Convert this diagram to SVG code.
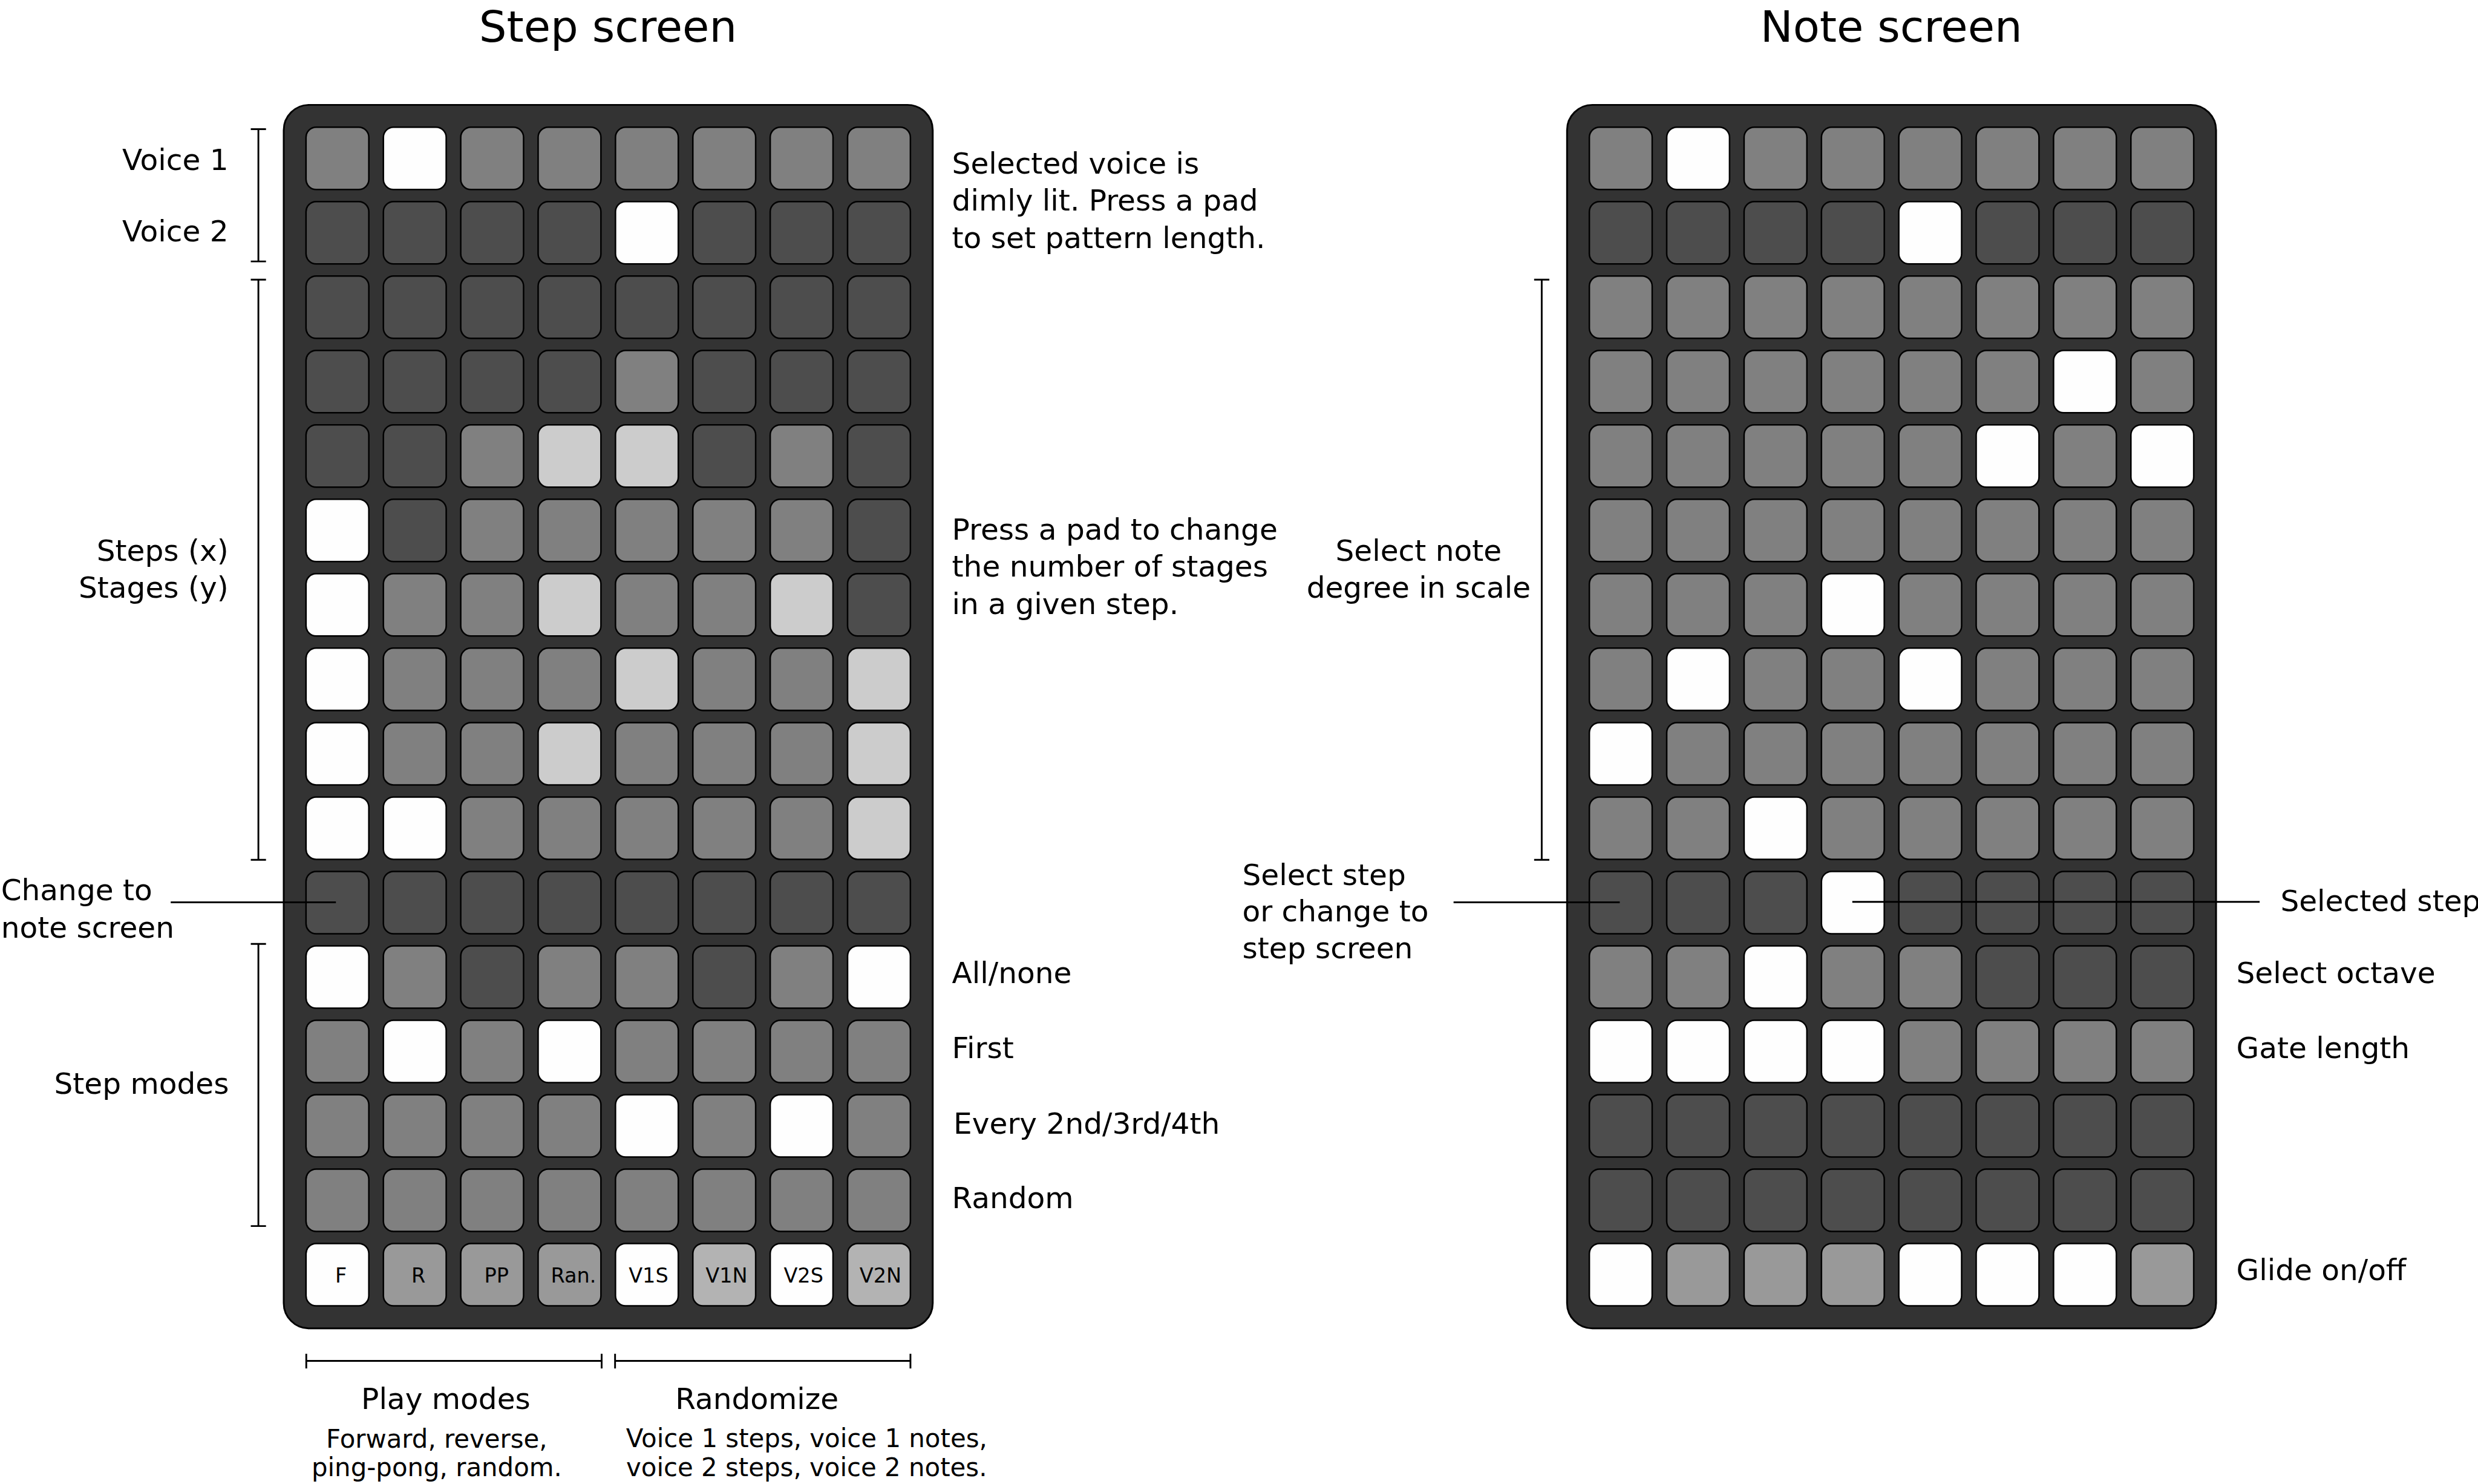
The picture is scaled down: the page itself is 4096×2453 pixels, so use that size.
<svg xmlns="http://www.w3.org/2000/svg" width="4096" height="2453" viewBox="0 0 4096 2453">
<style>
text{font-family:"DejaVu Sans","Liberation Sans",sans-serif;fill:#000}
.t{font-size:86px;text-anchor:middle}
.l{font-size:58px}
.e{text-anchor:end}
.c{text-anchor:middle}
.s{font-size:50px;text-anchor:middle}
.pl{font-size:40px;text-anchor:middle}
.panel{fill:#333;stroke:#000;stroke-width:3.5}
.pads rect{stroke:#000;stroke-width:3}
.W{fill:#fefefe}.M{fill:#808080}.D{fill:#4d4d4d}.L{fill:#ccc}.G{fill:#999}.H{fill:#b3b3b3}
.ln{stroke:#000;stroke-width:3.5;fill:none}
</style>
<rect width="4096" height="2453" fill="#fff"/>
<g transform="scale(0.83746)">
<g id="titles">
<text class="t" x="1200" y="82">Step screen</text>
<text class="t" x="3733" y="82">Note screen</text>
</g>
<g id="step-screen">
<rect class="panel" x="560" y="207" width="1281" height="2415" rx="50"/>
<g class="pads">
<g transform="translate(604,251)"><rect class="M" x="0" width="124" height="123" rx="20"/><rect class="W" x="152.7" width="124" height="123" rx="20"/><rect class="M" x="305.4" width="124" height="123" rx="20"/><rect class="M" x="458.1" width="124" height="123" rx="20"/><rect class="M" x="610.8" width="124" height="123" rx="20"/><rect class="M" x="763.5" width="124" height="123" rx="20"/><rect class="M" x="916.2" width="124" height="123" rx="20"/><rect class="M" x="1068.9" width="124" height="123" rx="20"/></g>
<g transform="translate(604,397.9)"><rect class="D" x="0" width="124" height="123" rx="20"/><rect class="D" x="152.7" width="124" height="123" rx="20"/><rect class="D" x="305.4" width="124" height="123" rx="20"/><rect class="D" x="458.1" width="124" height="123" rx="20"/><rect class="W" x="610.8" width="124" height="123" rx="20"/><rect class="D" x="763.5" width="124" height="123" rx="20"/><rect class="D" x="916.2" width="124" height="123" rx="20"/><rect class="D" x="1068.9" width="124" height="123" rx="20"/></g>
<g transform="translate(604,544.8)"><rect class="D" x="0" width="124" height="123" rx="20"/><rect class="D" x="152.7" width="124" height="123" rx="20"/><rect class="D" x="305.4" width="124" height="123" rx="20"/><rect class="D" x="458.1" width="124" height="123" rx="20"/><rect class="D" x="610.8" width="124" height="123" rx="20"/><rect class="D" x="763.5" width="124" height="123" rx="20"/><rect class="D" x="916.2" width="124" height="123" rx="20"/><rect class="D" x="1068.9" width="124" height="123" rx="20"/></g>
<g transform="translate(604,691.7)"><rect class="D" x="0" width="124" height="123" rx="20"/><rect class="D" x="152.7" width="124" height="123" rx="20"/><rect class="D" x="305.4" width="124" height="123" rx="20"/><rect class="D" x="458.1" width="124" height="123" rx="20"/><rect class="M" x="610.8" width="124" height="123" rx="20"/><rect class="D" x="763.5" width="124" height="123" rx="20"/><rect class="D" x="916.2" width="124" height="123" rx="20"/><rect class="D" x="1068.9" width="124" height="123" rx="20"/></g>
<g transform="translate(604,838.6)"><rect class="D" x="0" width="124" height="123" rx="20"/><rect class="D" x="152.7" width="124" height="123" rx="20"/><rect class="M" x="305.4" width="124" height="123" rx="20"/><rect class="L" x="458.1" width="124" height="123" rx="20"/><rect class="L" x="610.8" width="124" height="123" rx="20"/><rect class="D" x="763.5" width="124" height="123" rx="20"/><rect class="M" x="916.2" width="124" height="123" rx="20"/><rect class="D" x="1068.9" width="124" height="123" rx="20"/></g>
<g transform="translate(604,985.5)"><rect class="W" x="0" width="124" height="123" rx="20"/><rect class="D" x="152.7" width="124" height="123" rx="20"/><rect class="M" x="305.4" width="124" height="123" rx="20"/><rect class="M" x="458.1" width="124" height="123" rx="20"/><rect class="M" x="610.8" width="124" height="123" rx="20"/><rect class="M" x="763.5" width="124" height="123" rx="20"/><rect class="M" x="916.2" width="124" height="123" rx="20"/><rect class="D" x="1068.9" width="124" height="123" rx="20"/></g>
<g transform="translate(604,1132.4)"><rect class="W" x="0" width="124" height="123" rx="20"/><rect class="M" x="152.7" width="124" height="123" rx="20"/><rect class="M" x="305.4" width="124" height="123" rx="20"/><rect class="L" x="458.1" width="124" height="123" rx="20"/><rect class="M" x="610.8" width="124" height="123" rx="20"/><rect class="M" x="763.5" width="124" height="123" rx="20"/><rect class="L" x="916.2" width="124" height="123" rx="20"/><rect class="D" x="1068.9" width="124" height="123" rx="20"/></g>
<g transform="translate(604,1279.3)"><rect class="W" x="0" width="124" height="123" rx="20"/><rect class="M" x="152.7" width="124" height="123" rx="20"/><rect class="M" x="305.4" width="124" height="123" rx="20"/><rect class="M" x="458.1" width="124" height="123" rx="20"/><rect class="L" x="610.8" width="124" height="123" rx="20"/><rect class="M" x="763.5" width="124" height="123" rx="20"/><rect class="M" x="916.2" width="124" height="123" rx="20"/><rect class="L" x="1068.9" width="124" height="123" rx="20"/></g>
<g transform="translate(604,1426.2)"><rect class="W" x="0" width="124" height="123" rx="20"/><rect class="M" x="152.7" width="124" height="123" rx="20"/><rect class="M" x="305.4" width="124" height="123" rx="20"/><rect class="L" x="458.1" width="124" height="123" rx="20"/><rect class="M" x="610.8" width="124" height="123" rx="20"/><rect class="M" x="763.5" width="124" height="123" rx="20"/><rect class="M" x="916.2" width="124" height="123" rx="20"/><rect class="L" x="1068.9" width="124" height="123" rx="20"/></g>
<g transform="translate(604,1573.1)"><rect class="W" x="0" width="124" height="123" rx="20"/><rect class="W" x="152.7" width="124" height="123" rx="20"/><rect class="M" x="305.4" width="124" height="123" rx="20"/><rect class="M" x="458.1" width="124" height="123" rx="20"/><rect class="M" x="610.8" width="124" height="123" rx="20"/><rect class="M" x="763.5" width="124" height="123" rx="20"/><rect class="M" x="916.2" width="124" height="123" rx="20"/><rect class="L" x="1068.9" width="124" height="123" rx="20"/></g>
<g transform="translate(604,1720)"><rect class="D" x="0" width="124" height="123" rx="20"/><rect class="D" x="152.7" width="124" height="123" rx="20"/><rect class="D" x="305.4" width="124" height="123" rx="20"/><rect class="D" x="458.1" width="124" height="123" rx="20"/><rect class="D" x="610.8" width="124" height="123" rx="20"/><rect class="D" x="763.5" width="124" height="123" rx="20"/><rect class="D" x="916.2" width="124" height="123" rx="20"/><rect class="D" x="1068.9" width="124" height="123" rx="20"/></g>
<g transform="translate(604,1866.9)"><rect class="W" x="0" width="124" height="123" rx="20"/><rect class="M" x="152.7" width="124" height="123" rx="20"/><rect class="D" x="305.4" width="124" height="123" rx="20"/><rect class="M" x="458.1" width="124" height="123" rx="20"/><rect class="M" x="610.8" width="124" height="123" rx="20"/><rect class="D" x="763.5" width="124" height="123" rx="20"/><rect class="M" x="916.2" width="124" height="123" rx="20"/><rect class="W" x="1068.9" width="124" height="123" rx="20"/></g>
<g transform="translate(604,2013.8)"><rect class="M" x="0" width="124" height="123" rx="20"/><rect class="W" x="152.7" width="124" height="123" rx="20"/><rect class="M" x="305.4" width="124" height="123" rx="20"/><rect class="W" x="458.1" width="124" height="123" rx="20"/><rect class="M" x="610.8" width="124" height="123" rx="20"/><rect class="M" x="763.5" width="124" height="123" rx="20"/><rect class="M" x="916.2" width="124" height="123" rx="20"/><rect class="M" x="1068.9" width="124" height="123" rx="20"/></g>
<g transform="translate(604,2160.7)"><rect class="M" x="0" width="124" height="123" rx="20"/><rect class="M" x="152.7" width="124" height="123" rx="20"/><rect class="M" x="305.4" width="124" height="123" rx="20"/><rect class="M" x="458.1" width="124" height="123" rx="20"/><rect class="W" x="610.8" width="124" height="123" rx="20"/><rect class="M" x="763.5" width="124" height="123" rx="20"/><rect class="W" x="916.2" width="124" height="123" rx="20"/><rect class="M" x="1068.9" width="124" height="123" rx="20"/></g>
<g transform="translate(604,2307.6)"><rect class="M" x="0" width="124" height="123" rx="20"/><rect class="M" x="152.7" width="124" height="123" rx="20"/><rect class="M" x="305.4" width="124" height="123" rx="20"/><rect class="M" x="458.1" width="124" height="123" rx="20"/><rect class="M" x="610.8" width="124" height="123" rx="20"/><rect class="M" x="763.5" width="124" height="123" rx="20"/><rect class="M" x="916.2" width="124" height="123" rx="20"/><rect class="M" x="1068.9" width="124" height="123" rx="20"/></g>
<g transform="translate(604,2454.5)"><rect class="W" x="0" width="124" height="123" rx="20"/><rect class="G" x="152.7" width="124" height="123" rx="20"/><rect class="G" x="305.4" width="124" height="123" rx="20"/><rect class="G" x="458.1" width="124" height="123" rx="20"/><rect class="W" x="610.8" width="124" height="123" rx="20"/><rect class="H" x="763.5" width="124" height="123" rx="20"/><rect class="W" x="916.2" width="124" height="123" rx="20"/><rect class="H" x="1068.9" width="124" height="123" rx="20"/></g>
</g>
<g id="pad-labels">
<text class="pl" x="673" y="2531">F</text>
<text class="pl" x="826" y="2531">R</text>
<text class="pl" x="980" y="2531">PP</text>
<text class="pl" x="1132" y="2531">Ran.</text>
<text class="pl" x="1280" y="2531">V1S</text>
<text class="pl" x="1434" y="2531">V1N</text>
<text class="pl" x="1586" y="2531">V2S</text>
<text class="pl" x="1738" y="2531">V2N</text>
</g>
</g>
<g id="note-screen">
<rect class="panel" x="3093" y="207" width="1281" height="2415" rx="50"/>
<g class="pads">
<g transform="translate(3137,251)"><rect class="M" x="0" width="124" height="123" rx="20"/><rect class="W" x="152.7" width="124" height="123" rx="20"/><rect class="M" x="305.4" width="124" height="123" rx="20"/><rect class="M" x="458.1" width="124" height="123" rx="20"/><rect class="M" x="610.8" width="124" height="123" rx="20"/><rect class="M" x="763.5" width="124" height="123" rx="20"/><rect class="M" x="916.2" width="124" height="123" rx="20"/><rect class="M" x="1068.9" width="124" height="123" rx="20"/></g>
<g transform="translate(3137,397.9)"><rect class="D" x="0" width="124" height="123" rx="20"/><rect class="D" x="152.7" width="124" height="123" rx="20"/><rect class="D" x="305.4" width="124" height="123" rx="20"/><rect class="D" x="458.1" width="124" height="123" rx="20"/><rect class="W" x="610.8" width="124" height="123" rx="20"/><rect class="D" x="763.5" width="124" height="123" rx="20"/><rect class="D" x="916.2" width="124" height="123" rx="20"/><rect class="D" x="1068.9" width="124" height="123" rx="20"/></g>
<g transform="translate(3137,544.8)"><rect class="M" x="0" width="124" height="123" rx="20"/><rect class="M" x="152.7" width="124" height="123" rx="20"/><rect class="M" x="305.4" width="124" height="123" rx="20"/><rect class="M" x="458.1" width="124" height="123" rx="20"/><rect class="M" x="610.8" width="124" height="123" rx="20"/><rect class="M" x="763.5" width="124" height="123" rx="20"/><rect class="M" x="916.2" width="124" height="123" rx="20"/><rect class="M" x="1068.9" width="124" height="123" rx="20"/></g>
<g transform="translate(3137,691.7)"><rect class="M" x="0" width="124" height="123" rx="20"/><rect class="M" x="152.7" width="124" height="123" rx="20"/><rect class="M" x="305.4" width="124" height="123" rx="20"/><rect class="M" x="458.1" width="124" height="123" rx="20"/><rect class="M" x="610.8" width="124" height="123" rx="20"/><rect class="M" x="763.5" width="124" height="123" rx="20"/><rect class="W" x="916.2" width="124" height="123" rx="20"/><rect class="M" x="1068.9" width="124" height="123" rx="20"/></g>
<g transform="translate(3137,838.6)"><rect class="M" x="0" width="124" height="123" rx="20"/><rect class="M" x="152.7" width="124" height="123" rx="20"/><rect class="M" x="305.4" width="124" height="123" rx="20"/><rect class="M" x="458.1" width="124" height="123" rx="20"/><rect class="M" x="610.8" width="124" height="123" rx="20"/><rect class="W" x="763.5" width="124" height="123" rx="20"/><rect class="M" x="916.2" width="124" height="123" rx="20"/><rect class="W" x="1068.9" width="124" height="123" rx="20"/></g>
<g transform="translate(3137,985.5)"><rect class="M" x="0" width="124" height="123" rx="20"/><rect class="M" x="152.7" width="124" height="123" rx="20"/><rect class="M" x="305.4" width="124" height="123" rx="20"/><rect class="M" x="458.1" width="124" height="123" rx="20"/><rect class="M" x="610.8" width="124" height="123" rx="20"/><rect class="M" x="763.5" width="124" height="123" rx="20"/><rect class="M" x="916.2" width="124" height="123" rx="20"/><rect class="M" x="1068.9" width="124" height="123" rx="20"/></g>
<g transform="translate(3137,1132.4)"><rect class="M" x="0" width="124" height="123" rx="20"/><rect class="M" x="152.7" width="124" height="123" rx="20"/><rect class="M" x="305.4" width="124" height="123" rx="20"/><rect class="W" x="458.1" width="124" height="123" rx="20"/><rect class="M" x="610.8" width="124" height="123" rx="20"/><rect class="M" x="763.5" width="124" height="123" rx="20"/><rect class="M" x="916.2" width="124" height="123" rx="20"/><rect class="M" x="1068.9" width="124" height="123" rx="20"/></g>
<g transform="translate(3137,1279.3)"><rect class="M" x="0" width="124" height="123" rx="20"/><rect class="W" x="152.7" width="124" height="123" rx="20"/><rect class="M" x="305.4" width="124" height="123" rx="20"/><rect class="M" x="458.1" width="124" height="123" rx="20"/><rect class="W" x="610.8" width="124" height="123" rx="20"/><rect class="M" x="763.5" width="124" height="123" rx="20"/><rect class="M" x="916.2" width="124" height="123" rx="20"/><rect class="M" x="1068.9" width="124" height="123" rx="20"/></g>
<g transform="translate(3137,1426.2)"><rect class="W" x="0" width="124" height="123" rx="20"/><rect class="M" x="152.7" width="124" height="123" rx="20"/><rect class="M" x="305.4" width="124" height="123" rx="20"/><rect class="M" x="458.1" width="124" height="123" rx="20"/><rect class="M" x="610.8" width="124" height="123" rx="20"/><rect class="M" x="763.5" width="124" height="123" rx="20"/><rect class="M" x="916.2" width="124" height="123" rx="20"/><rect class="M" x="1068.9" width="124" height="123" rx="20"/></g>
<g transform="translate(3137,1573.1)"><rect class="M" x="0" width="124" height="123" rx="20"/><rect class="M" x="152.7" width="124" height="123" rx="20"/><rect class="W" x="305.4" width="124" height="123" rx="20"/><rect class="M" x="458.1" width="124" height="123" rx="20"/><rect class="M" x="610.8" width="124" height="123" rx="20"/><rect class="M" x="763.5" width="124" height="123" rx="20"/><rect class="M" x="916.2" width="124" height="123" rx="20"/><rect class="M" x="1068.9" width="124" height="123" rx="20"/></g>
<g transform="translate(3137,1720)"><rect class="D" x="0" width="124" height="123" rx="20"/><rect class="D" x="152.7" width="124" height="123" rx="20"/><rect class="D" x="305.4" width="124" height="123" rx="20"/><rect class="W" x="458.1" width="124" height="123" rx="20"/><rect class="D" x="610.8" width="124" height="123" rx="20"/><rect class="D" x="763.5" width="124" height="123" rx="20"/><rect class="D" x="916.2" width="124" height="123" rx="20"/><rect class="D" x="1068.9" width="124" height="123" rx="20"/></g>
<g transform="translate(3137,1866.9)"><rect class="M" x="0" width="124" height="123" rx="20"/><rect class="M" x="152.7" width="124" height="123" rx="20"/><rect class="W" x="305.4" width="124" height="123" rx="20"/><rect class="M" x="458.1" width="124" height="123" rx="20"/><rect class="M" x="610.8" width="124" height="123" rx="20"/><rect class="D" x="763.5" width="124" height="123" rx="20"/><rect class="D" x="916.2" width="124" height="123" rx="20"/><rect class="D" x="1068.9" width="124" height="123" rx="20"/></g>
<g transform="translate(3137,2013.8)"><rect class="W" x="0" width="124" height="123" rx="20"/><rect class="W" x="152.7" width="124" height="123" rx="20"/><rect class="W" x="305.4" width="124" height="123" rx="20"/><rect class="W" x="458.1" width="124" height="123" rx="20"/><rect class="M" x="610.8" width="124" height="123" rx="20"/><rect class="M" x="763.5" width="124" height="123" rx="20"/><rect class="M" x="916.2" width="124" height="123" rx="20"/><rect class="M" x="1068.9" width="124" height="123" rx="20"/></g>
<g transform="translate(3137,2160.7)"><rect class="D" x="0" width="124" height="123" rx="20"/><rect class="D" x="152.7" width="124" height="123" rx="20"/><rect class="D" x="305.4" width="124" height="123" rx="20"/><rect class="D" x="458.1" width="124" height="123" rx="20"/><rect class="D" x="610.8" width="124" height="123" rx="20"/><rect class="D" x="763.5" width="124" height="123" rx="20"/><rect class="D" x="916.2" width="124" height="123" rx="20"/><rect class="D" x="1068.9" width="124" height="123" rx="20"/></g>
<g transform="translate(3137,2307.6)"><rect class="D" x="0" width="124" height="123" rx="20"/><rect class="D" x="152.7" width="124" height="123" rx="20"/><rect class="D" x="305.4" width="124" height="123" rx="20"/><rect class="D" x="458.1" width="124" height="123" rx="20"/><rect class="D" x="610.8" width="124" height="123" rx="20"/><rect class="D" x="763.5" width="124" height="123" rx="20"/><rect class="D" x="916.2" width="124" height="123" rx="20"/><rect class="D" x="1068.9" width="124" height="123" rx="20"/></g>
<g transform="translate(3137,2454.5)"><rect class="W" x="0" width="124" height="123" rx="20"/><rect class="G" x="152.7" width="124" height="123" rx="20"/><rect class="G" x="305.4" width="124" height="123" rx="20"/><rect class="G" x="458.1" width="124" height="123" rx="20"/><rect class="W" x="610.8" width="124" height="123" rx="20"/><rect class="W" x="763.5" width="124" height="123" rx="20"/><rect class="W" x="916.2" width="124" height="123" rx="20"/><rect class="G" x="1068.9" width="124" height="123" rx="20"/></g>
</g>
</g>
<g id="connectors" class="ln">
<path d="M510 255V516M495 255H525M495 516H525"/>
<path d="M510 552V1697M495 552H525M495 1697H525"/>
<path d="M510 1863V2420M495 1863H525M495 2420H525"/>
<path d="M3043 552V1697M3028 552H3058M3028 1697H3058"/>
<path d="M604.5 2686H1187.5M604.5 2672V2701M1187.5 2672V2701"/>
<path d="M1214 2686H1797M1214 2672V2701M1797 2672V2701"/>
<path d="M337 1781H663"/>
<path d="M2869 1781H3197"/>
<path d="M3656 1780H4460"/>
</g>
<g id="labels">
<text class="l e" x="451" y="336">Voice 1</text>
<text class="l e" x="451" y="476">Voice 2</text>
<text class="l e" x="451" y="1107">Steps (x)</text>
<text class="l e" x="451" y="1180">Stages (y)</text>
<text class="l e" x="452" y="2159">Step modes</text>
<text class="l" x="2" y="1777">Change to</text>
<text class="l" x="2" y="1851">note screen</text>
<text class="l" x="1879" y="343">Selected voice is</text>
<text class="l" x="1879" y="416">dimly lit. Press a pad</text>
<text class="l" x="1879" y="489">to set pattern length.</text>
<text class="l" x="1879" y="1065">Press a pad to change</text>
<text class="l" x="1879" y="1138">the number of stages</text>
<text class="l" x="1879" y="1212">in a given step.</text>
<text class="l" x="1879" y="1940">All/none</text>
<text class="l" x="1879" y="2089">First</text>
<text class="l" x="1882" y="2238">Every 2nd/3rd/4th</text>
<text class="l" x="1879" y="2385">Random</text>
<text class="l c" x="880" y="2781">Play modes</text>
<text class="l c" x="1494" y="2781">Randomize</text>
<text class="s" x="862" y="2857">Forward, reverse,</text>
<text class="s" x="862" y="2914">ping-pong, random.</text>
<text class="s" x="1592" y="2856">Voice 1 steps, voice 1 notes,</text>
<text class="s" x="1592" y="2914">voice 2 steps, voice 2 notes.</text>
<text class="l c" x="2800" y="1107">Select note</text>
<text class="l c" x="2800" y="1180">degree in scale</text>
<text class="l" x="2452" y="1747">Select step</text>
<text class="l" x="2452" y="1818">or change to</text>
<text class="l" x="2452" y="1892">step screen</text>
<text class="l" x="4501" y="1798">Selected step</text>
<text class="l" x="4414" y="1940">Select octave</text>
<text class="l" x="4414" y="2089">Gate length</text>
<text class="l" x="4414" y="2527">Glide on/off</text>
</g>
</g>
</svg>
